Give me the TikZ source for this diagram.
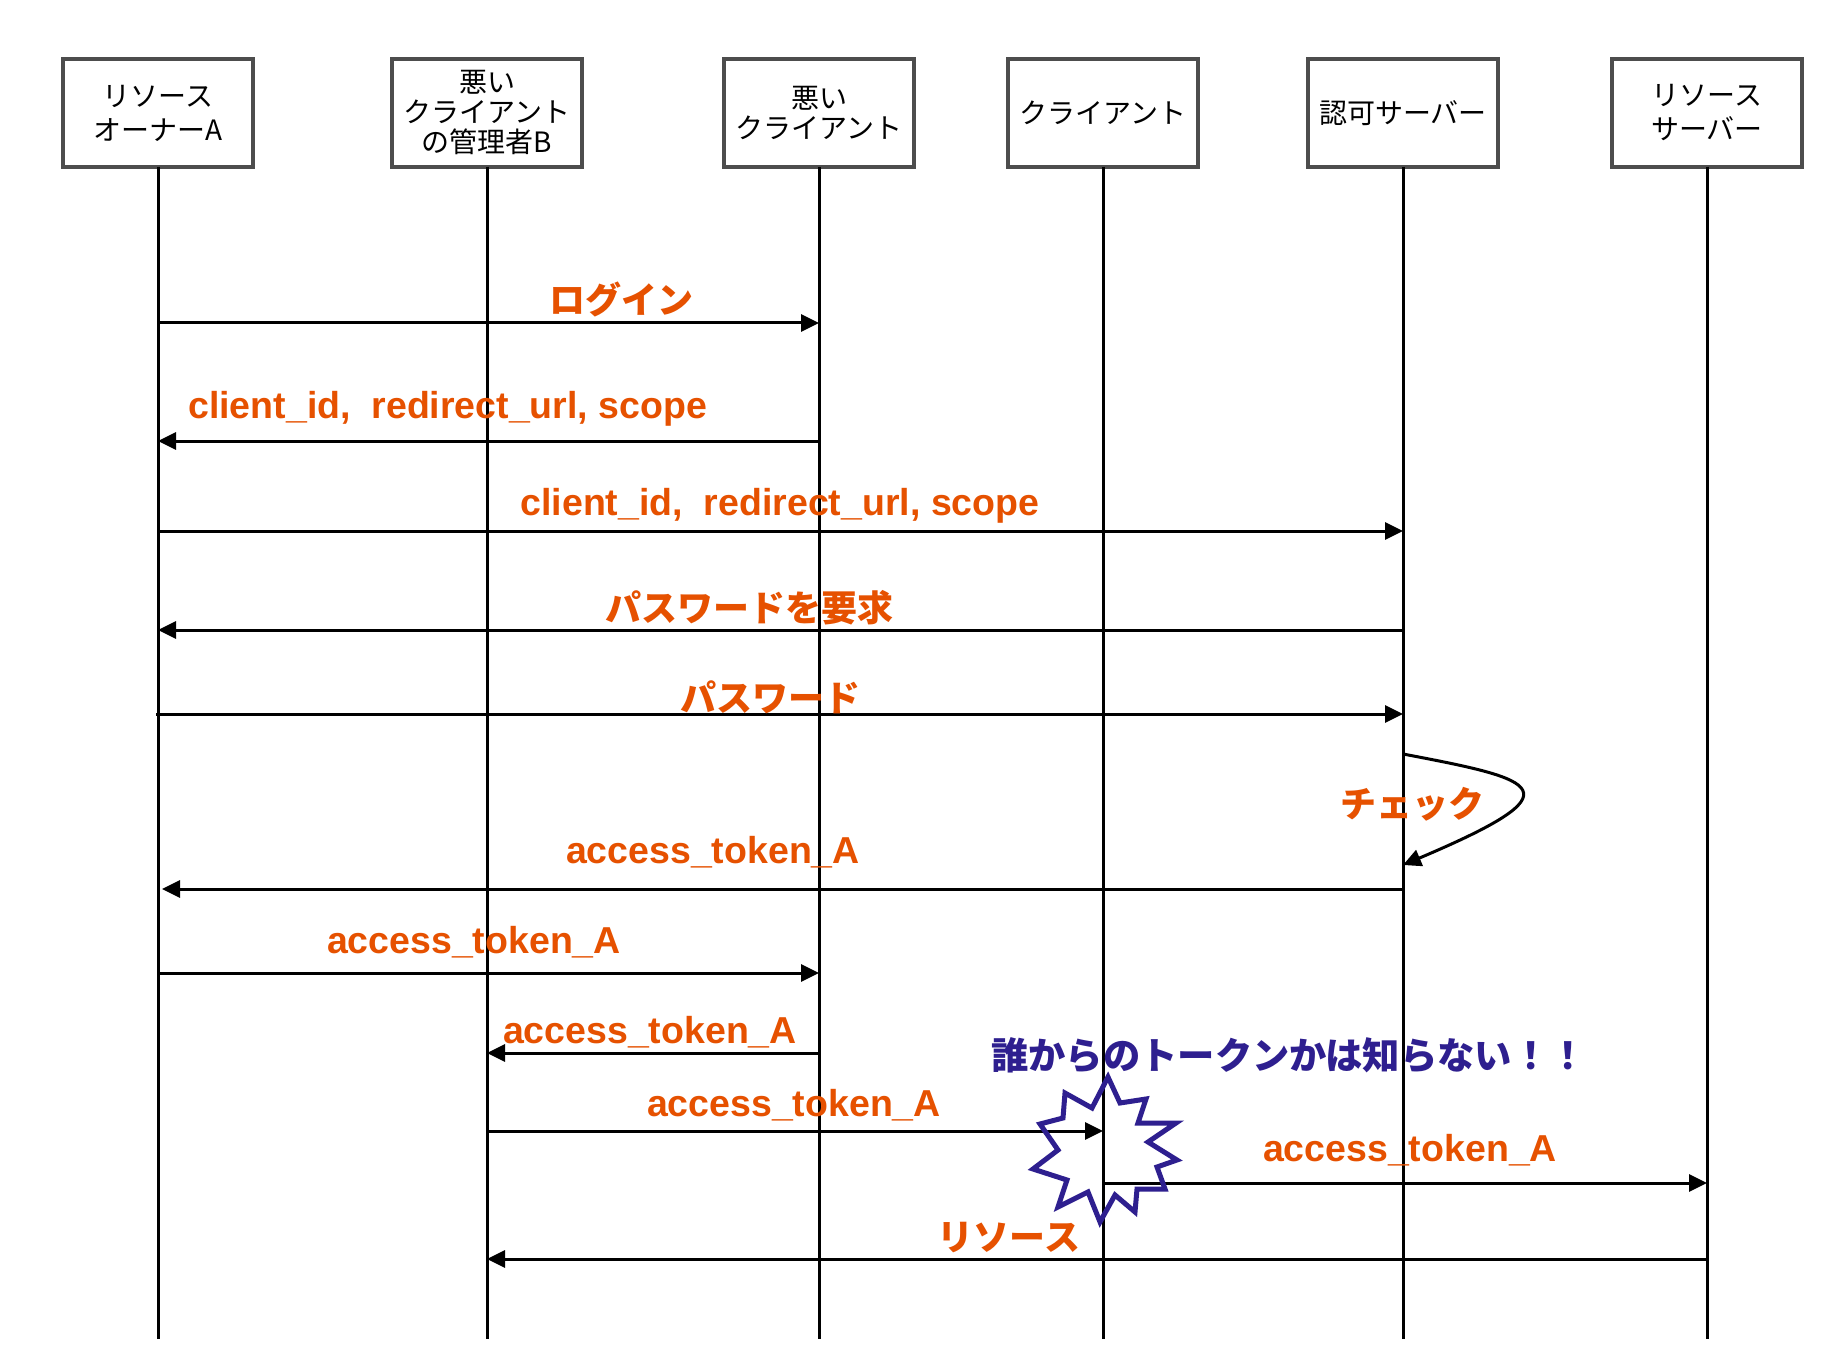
\documentclass[tikz,border=0pt]{standalone}
\usepackage{fontspec}
\setmainfont{Liberation Sans}
\newfontfamily\jp{Noto Sans CJK JP}
\usetikzlibrary{arrows.meta}
\definecolor{lblorange}{HTML}{E65100}
\definecolor{nblue}{HTML}{2E1F8F}
\definecolor{boxgray}{HTML}{4D4D4D}
\begin{document}
\begin{tikzpicture}[x=1pt,y=-1pt,
  box/.style={draw=boxgray, line width=3.5pt, fill=white, minimum width=190pt, minimum height=108pt, inner sep=0pt, outer sep=0pt, align=center, font=\jp\fontsize{28}{30}\selectfont},
  boxwide/.style={box, font=\jp\fontsize{28}{34}\selectfont},
  life/.style={line width=3pt},
  msg/.style={line width=3pt, -{Triangle[length=18pt,width=17pt]}},
  lbl/.style={text=lblorange, font=\bfseries\fontsize{37.5}{40}\selectfont, inner sep=0pt},
  jlbl/.style={text=lblorange, font=\jp\bfseries\fontsize{36}{40}\selectfont, inner sep=0pt},
  note/.style={text=nblue, font=\jp\bfseries\fontsize{37.3}{40}\selectfont, inner sep=0pt},
  burst/.style={draw=nblue, line width=5pt, line join=miter}
]
\fill[white] (0,0) rectangle (1848,1372);
\useasboundingbox (0,0) rectangle (1848,1372);

% participants
\node[boxwide] (b1) at (158,113) {リソース\\オーナーA};
\node[box] (b2) at (487,113) {悪い\\クライアント\\の管理者B};
\node[box] (b3) at (819,113) {悪い\\クライアント};
\node[box] (b4) at (1103,113) {クライアント};
\node[box] (b5) at (1403,113) {認可サーバー};
\node[boxwide] (b6) at (1707,113) {リソース\\サーバー};

% lifelines
\foreach \i in {1,...,6} {
  \coordinate (e\i) at (b\i.south |- 0,1339);
  \draw[life] (b\i.south) -- (e\i);
}

% messages
\draw[msg] (b1.south |- 0,323) -- (b3.south |- 0,323);
\draw[msg] (b3.south |- 0,441) -- (b1.south |- 0,441);
\draw[msg] (b1.south |- 0,531) -- (b5.south |- 0,531);
\draw[msg] (b5.south |- 0,630) -- (b1.south |- 0,630);
\draw[msg] ([xshift=-2pt]b1.south |- 0,714) -- (b5.south |- 0,714);
\draw[msg] (b5.south |- 0,754) .. controls (1540,780) and (1580,790) .. (b5.south |- 0,865);
\draw[msg] (b5.south |- 0,889) -- ([xshift=4pt]b1.south |- 0,889);
\draw[msg] (b1.south |- 0,973) -- (b3.south |- 0,973);
\draw[msg] (b3.south |- 0,1053) -- (b2.south |- 0,1053);
\draw[msg] (b2.south |- 0,1131) -- (b4.south |- 0,1131);
\draw[msg] (b4.south |- 0,1183) -- (b6.south |- 0,1183);
\draw[msg] (b6.south |- 0,1259) -- (b2.south |- 0,1259);

% labels
\node[jlbl] (t1) at (621,299) {ログイン};
\node[lbl, anchor=base west] (t2) at (188,418) {client\_id,\ \ redirect\_url, scope};
\node[lbl, anchor=base] (t3) at (780,515) {client\_id,\ \ redirect\_url, scope};
\node[jlbl] (t4) at (749,608) {パスワードを要求};
\node[jlbl] (t5) at (770,697) {パスワード};
\node[jlbl] (t6) at (1412,804) {チェック};
\node[lbl, anchor=base] (t7) at (713,863) {access\_token\_A};
\node[lbl, anchor=base] (t8) at (474,953) {access\_token\_A};
\node[lbl, anchor=base] (t9) at (650,1043) {access\_token\_A};
\node[lbl, anchor=base] (t10) at (794,1116) {access\_token\_A};
\node[lbl, anchor=base] (t11) at (1410,1161) {access\_token\_A};
\node[jlbl] (t12) at (1009,1238) {リソース};
\node[note] (t13) at (1289,1055) {誰からのトークンかは知らない！！};

% burst
\draw[burst] (1108,1077) -- (1120,1103) -- (1146,1099) -- (1138,1123) -- (1176,1123)
  -- (1148,1142) -- (1177,1160) -- (1157,1167) -- (1165,1189) -- (1137,1189)
  -- (1135,1212) -- (1115,1195) -- (1100,1222) -- (1088,1192) -- (1058,1207)
  -- (1067,1180) -- (1033,1169) -- (1058,1150) -- (1040,1124) -- (1063,1118)
  -- (1065,1093) -- (1092,1108) -- cycle;
\end{tikzpicture}
\end{document}
